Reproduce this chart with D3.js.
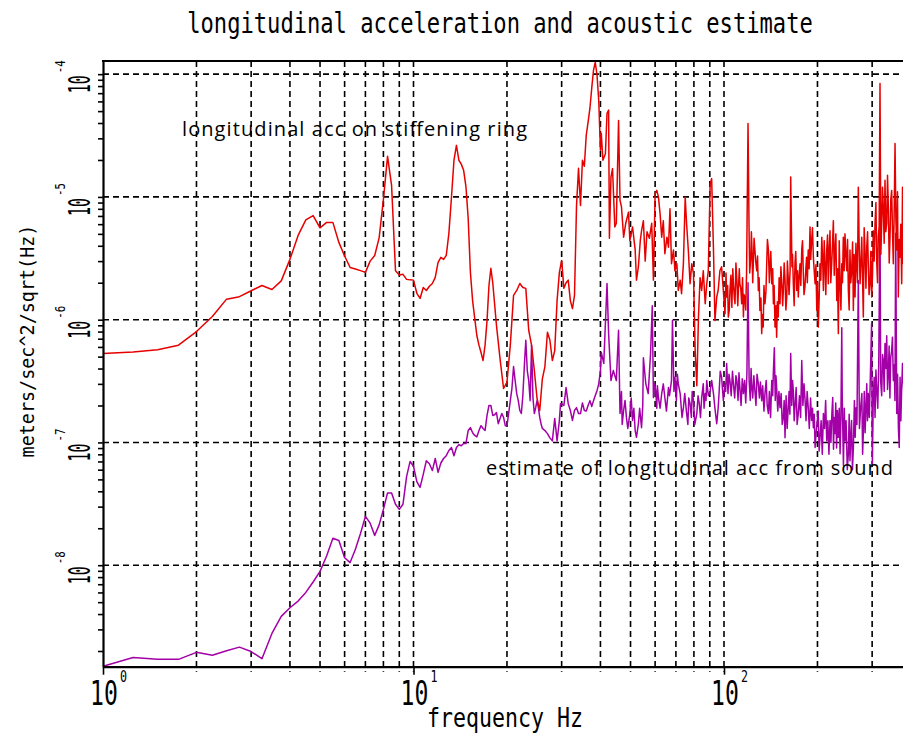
<!DOCTYPE html>
<html>
<head>
<meta charset="utf-8">
<script src="https://cdn.jsdelivr.net/npm/d3@7"></script>
<style>
  body { margin: 0; background: #fff; }
</style>
</head>
<body>
<div id="chart"></div>
<script>
// longitudinal acceleration on the stiffening ring, [Hz, m/s^2/sqrt(Hz)]
var accData = [
  [1, 5.3e-7], [1.25, 5.46e-7], [1.5, 5.7e-7], [1.75, 6.2e-7], [2, 8.0e-7], [2.25, 1.06e-6], [2.5, 1.47e-6],
  [2.75, 1.54e-6], [3, 1.72e-6], [3.25, 1.9e-6], [3.5, 1.76e-6], [3.75, 2.07e-6], [4, 3.1e-6], [4.25, 4.86e-6],
  [4.5, 6.5e-6], [4.75, 7.05e-6], [5, 5.6e-6], [5.25, 6.2e-6], [5.5, 6.2e-6], [5.75, 4.26e-6], [6, 3.3e-6],
  [6.25, 2.66e-6], [6.5, 2.59e-6], [6.75, 2.51e-6], [7, 2.43e-6], [7.25, 3.0e-6], [7.5, 3.33e-6], [7.75, 4.64e-6],
  [8, 9.56e-6], [8.25, 2.14e-5], [8.5, 1.24e-5], [8.75, 2.5e-6], [9, 2.31e-6], [9.25, 2.34e-6], [9.5, 2.13e-6],
  [9.75, 2.11e-6], [10, 2.1e-6], [10.25, 1.64e-6], [10.5, 1.49e-6], [10.75, 1.83e-6], [11, 1.73e-6], [11.25, 1.87e-6],
  [11.5, 1.97e-6], [11.75, 2.21e-6], [12, 2.93e-6], [12.25, 3.22e-6], [12.5, 3.1e-6], [12.75, 3.34e-6], [13, 5.05e-6],
  [13.25, 9.9e-6], [13.5, 1.99e-5], [13.75, 2.63e-5], [14, 1.99e-5], [14.25, 1.85e-5], [14.5, 1.65e-5], [14.75, 1.22e-5],
  [15, 6.7e-6], [15.25, 2.43e-6], [15.5, 1.43e-6], [15.75, 1.02e-6], [16, 7.4e-7], [16.25, 6.2e-7], [16.5, 5.4e-7],
  [16.75, 4.65e-7], [17, 6.2e-7], [17.25, 9.8e-7], [17.5, 1.9e-6], [17.75, 2.62e-6], [18, 2.0e-6], [18.5, 9.0e-7],
  [19, 4.8e-7], [19.5, 2.75e-7], [20, 3.1e-7], [20.5, 6.2e-7], [21, 1.58e-6], [21.5, 1.73e-6], [22, 1.97e-6],
  [22.5, 1.83e-6], [23, 1.8e-6], [23.5, 8.2e-7], [24, 6.2e-7], [24.5, 3.85e-7], [25, 2.28e-7], [25.5, 1.82e-7],
  [26, 3.3e-7], [26.5, 4.15e-7], [27, 7.9e-7], [27.5, 6.8e-7], [28, 4.65e-7], [28.5, 5.6e-7], [29, 1.43e-6],
  [29.5, 2.43e-6], [30, 3.04e-6], [30.5, 1.8e-6], [31, 2.0e-6], [31.5, 2.1e-6], [32, 1.43e-6], [32.5, 1.23e-6],
  [33, 1.58e-6], [33.5, 8.5e-6], [34, 1.71e-5], [34.5, 8.5e-6], [35, 1.99e-5], [35.5, 1.78e-5], [36, 3.18e-5],
  [36.5, 4.06e-5], [37, 5.28e-5], [37.5, 7.7e-5], [38, 1.08e-4], [38.5, 1.25e-4], [39, 9.8e-5], [39.5, 6.1e-5],
  [40, 2.4e-5], [40.25, 3.28e-5], [40.75, 1.99e-5], [41.5, 2.25e-5], [42, 4.8e-5], [42.5, 5.1e-5], [42.75, 4.6e-6],
  [43.25, 1.45e-5], [43.75, 1.7e-5], [44.5, 5.7e-6], [45, 6.1e-6], [45.75, 4.2e-5], [46.25, 9.4e-6], [46.75, 8.3e-6],
  [47.5, 4.7e-6], [48.25, 6.1e-6], [49.25, 7.5e-6], [49.75, 4.4e-6], [50.75, 5.7e-6], [51.75, 3.7e-6], [52.25, 2.1e-6],
  [53, 2.7e-6], [53.75, 4.4e-6], [54.25, 5.3e-6], [55, 6.4e-6], [55.75, 3.0e-6], [56.5, 5.2e-6], [57.5, 4.6e-6],
  [58.5, 6.1e-6], [59.25, 2.1e-6], [60, 1.06e-5], [60.75, 1.13e-5], [61.5, 1.0e-5], [62.25, 7.3e-6], [63, 4.7e-6],
  [63.75, 6.4e-6], [64.5, 3.45e-6], [65.5, 4.7e-6], [66.25, 3.9e-6], [67, 8.0e-6], [67.75, 2.86e-6], [68.75, 3.7e-6],
  [69.5, 2.5e-6], [70.5, 2.86e-6], [71.25, 1.73e-6], [72.25, 2.1e-6], [73, 1.63e-6], [74, 2.86e-6], [75, 1.0e-5],
  [75.75, 6.1e-6], [76.75, 3.7e-6], [77.75, 1.96e-6], [78.75, 2.86e-6], [79.75, 2.37e-6], [80.75, 5.6e-7], [81.75, 2.9e-7],
  [82.75, 1.05e-6], [83.75, 2.2e-6], [84.75, 1.73e-6], [85.75, 2.5e-6], [87, 1.35e-6], [88, 1.96e-6], [89, 2.5e-6],
  [90.25, 1.28e-5], [91.25, 1.41e-5], [92.5, 3.7e-6], [93.5, 9.85e-7], [94.75, 1.53e-6], [95.75, 1.73e-6], [97, 2.5e-6],
  [98.25, 2.7e-6], [99.5, 1.73e-6], [100.75, 1.12e-6], [102, 1.53e-6], [103.25, 1.05e-6], [104.5, 1.73e-6], [106, 1.26e-6],
  [107.25, 1.96e-6], [108.5, 1.35e-6], [110, 2.1e-6], [111.25, 1.73e-6], [112.5, 1.96e-6], [114, 1.35e-6], [115.5, 1.05e-6],
  [116.75, 1.53e-6], [118.25, 2.5e-6], [119.5, 3.96e-5], [120.5, 4.7e-6], [122, 3.23e-6], [123, 3.9e-6], [124.25, 2.86e-6],
  [125.75, 3.7e-6], [127.5, 2.5e-6], [129, 1.73e-6], [130.5, 1.19e-6], [132.25, 7.7e-7], [133.75, 8.7e-7], [135.5, 1.35e-6],
  [137.25, 2.86e-6], [139, 3.7e-6], [140.75, 2.86e-6], [142.5, 1.96e-6], [144.25, 1.35e-6], [146, 8.7e-7], [147.75, 7.2e-7],
  [149.5, 1.05e-6], [151.5, 1.35e-6], [153.5, 1.96e-6], [155.25, 1.73e-6], [157.25, 2.1e-6], [159.25, 1.53e-6], [161, 2.2e-6],
  [163.25, 2.5e-6], [164, 1.45e-5], [165.5, 2.7e-6], [167.25, 1.96e-6], [169.25, 2.86e-6], [171.5, 1.73e-6], [173.5, 1.53e-6],
  [175.75, 2.86e-6], [178, 3.7e-6], [180, 2.5e-6], [182.25, 1.84e-6], [184.5, 3.23e-6], [186.75, 3.7e-6], [189.25, 5.7e-6],
  [191.5, 4.4e-6], [194, 3.23e-6], [196.5, 1.96e-6], [199, 1.19e-6], [201.25, 8.7e-7], [203.75, 2.86e-6], [206.5, 4.7e-6],
  [209, 1.73e-6], [211.5, 2.86e-6], [214.25, 3.7e-6], [216.75, 1.96e-6], [219.5, 5.3e-6], [222.25, 2.86e-6], [225, 6.4e-6],
  [227.75, 3.7e-6], [230.75, 1.43e-6], [233.5, 7.7e-7], [236.5, 1.96e-6], [239.5, 2.86e-6], [242.25, 4.7e-6], [245.25, 5.0e-6],
  [248.5, 2.5e-6], [251.5, 1.73e-6], [254.5, 3.7e-6], [257.75, 2.5e-6], [261, 1.19e-6], [264.25, 1.53e-6], [267.5, 2.86e-6],
  [270.75, 1.2e-5], [274.25, 1.96e-6], [277.75, 4.7e-6], [281, 1.05e-6], [284.5, 3.7e-6], [288.25, 3.9e-6], [291.5, 2.86e-6],
  [295.25, 1.96e-6], [299, 1.53e-6], [302.5, 5.3e-6], [306.5, 6.1e-6], [310.5, 2.86e-6], [314, 4.7e-6], [318, 8.4e-5],
  [322, 6.1e-6], [326, 7.8e-6], [330, 1.37e-5], [334.25, 6.1e-6], [338.25, 8.3e-6], [342.5, 4.7e-6], [346.75, 1.13e-5],
  [351, 2.86e-6], [355.5, 2.72e-5], [360, 3.7e-6], [364.25, 1.53e-6], [368.75, 3.23e-6], [373.5, 1.96e-6], [378, 2.86e-6]
];

// extra readings in the dense band above 100 Hz
var accBand = [
  [101.5, 2.4e-6], [102.75, 1.9e-6], [104, 1.2e-6], [105.25, 2.3e-6], [106.75, 2.6e-6], [108, 1.5e-6], [109.25, 2.9e-6],
  [110.75, 1.3e-6], [112, 2.6e-6], [113.25, 1.8e-6], [114.75, 2.2e-6], [116, 1.6e-6], [117.5, 1.2e-6], [121, 2.4e-6],
  [122.5, 5.2e-6], [123.75, 2.0e-6], [125, 4.6e-6], [126.5, 3.0e-6], [128.25, 3.3e-6], [129.75, 2.2e-6], [131.5, 1.5e-6],
  [133, 1.1e-6], [134.5, 1.9e-6], [136.5, 1.7e-6], [138, 4.5e-6], [140, 2.0e-6], [141.5, 3.6e-6], [143.5, 2.6e-6],
  [145, 1.9e-6], [147, 1.3e-6], [148.5, 1.4e-6], [150.5, 2.2e-6], [152.5, 2.7e-6], [154.5, 1.3e-6], [156.25, 2.9e-6],
  [158.25, 1.2e-6], [160, 3.0e-6], [162, 1.6e-6], [166.25, 3.4e-6], [168.25, 1.3e-6], [170.25, 3.6e-6], [172.5, 2.5e-6],
  [174.5, 2.2e-6], [176.75, 1.9e-6], [179, 4.4e-6], [181, 1.6e-6], [183.5, 2.6e-6], [185.5, 2.0e-6], [188, 2.6e-6],
  [190.25, 3.1e-6], [192.75, 5.6e-6], [195.25, 2.5e-6], [197.75, 2.8e-6], [200, 2.0e-6], [202.5, 1.5e-6], [205, 2.1e-6],
  [207.75, 3.2e-6], [210.25, 4.4e-6], [212.75, 1.6e-6], [215.5, 4.9e-6], [218, 3.6e-6], [220.75, 2.0e-6], [223.5, 4.0e-6],
  [226.5, 2.3e-6], [229.25, 5.0e-6], [232, 2.6e-6], [235, 4.4e-6], [238, 1.2e-6], [240.75, 2.0e-6], [243.75, 2.5e-6],
  [246.75, 3.5e-6], [250, 4.5e-6], [253, 1.2e-6], [256, 2.0e-6], [259.5, 4.3e-6], [262.5, 3.4e-6], [266, 4.2e-6],
  [269, 2.0e-6], [272.5, 4.1e-6], [276, 2.9e-6], [279.25, 2.3e-6], [282.75, 5.6e-6], [286.5, 1.8e-6], [290, 5.2e-6],
  [293.25, 1.6e-6], [297, 3.6e-6], [300.75, 2.3e-6], [304.5, 3.0e-6], [308.5, 9.0e-6], [312.25, 2.0e-6], [316, 5.8e-6],
  [320, 3.4e-6], [324, 1.2e-5], [328, 4.2e-6], [332, 5.2e-6], [336.25, 1.5e-5], [340.5, 2.9e-6], [344.5, 9.5e-6],
  [349, 5.0e-6], [353.25, 7.5e-6], [357.75, 6.5e-6], [362, 1.1e-5], [366.5, 4.5e-6], [371, 6.0e-6], [375.75, 1.2e-5],
  [380, 5.0e-6], [384, 2.6e-6]
];

// acceleration estimated from the sound pressure
var soundData = [
  [1, 1.5e-9], [1.25, 1.77e-9], [1.5, 1.71e-9], [1.75, 1.71e-9], [2, 1.95e-9], [2.25, 1.85e-9], [2.5, 2.01e-9],
  [2.75, 2.15e-9], [3, 1.98e-9], [3.25, 1.73e-9], [3.5, 2.78e-9], [3.75, 3.83e-9], [4, 4.5e-9], [4.25, 5.1e-9],
  [4.5, 6.0e-9], [4.75, 7.3e-9], [5, 8.9e-9], [5.25, 1.19e-8], [5.5, 1.66e-8], [5.75, 1.59e-8], [6, 1.15e-8],
  [6.25, 1.05e-8], [6.5, 1.35e-8], [6.75, 1.81e-8], [7, 2.5e-8], [7.25, 2.2e-8], [7.5, 1.75e-8], [7.75, 2.13e-8],
  [8, 2.85e-8], [8.25, 3.88e-8], [8.5, 3.88e-8], [8.75, 3.14e-8], [9, 2.85e-8], [9.25, 3.14e-8], [9.5, 5.26e-8],
  [9.75, 7.0e-8], [10, 6.4e-8], [10.25, 4.8e-8], [10.5, 4.3e-8], [10.75, 5.5e-8], [11, 7.1e-8], [11.25, 6.7e-8],
  [11.5, 5.9e-8], [11.75, 7.4e-8], [12, 5.7e-8], [12.25, 6.8e-8], [12.5, 7.4e-8], [12.75, 7.8e-8], [13, 8.6e-8],
  [13.25, 9.1e-8], [13.5, 7.8e-8], [13.75, 9.1e-8], [14, 9.6e-8], [14.25, 9.4e-8], [14.5, 9.8e-8], [14.75, 9.8e-8],
  [15, 1.25e-7], [15.25, 1.32e-7], [15.5, 1.2e-7], [15.75, 1.14e-7], [16, 1.11e-7], [16.25, 1.25e-7], [16.5, 1.37e-7],
  [16.75, 1.3e-7], [17, 1.25e-7], [17.25, 1.66e-7], [17.5, 2.0e-7], [17.75, 2.0e-7], [18, 1.66e-7], [18.25, 1.68e-7],
  [18.5, 1.75e-7], [18.75, 1.42e-7], [19, 1.57e-7], [19.25, 1.72e-7], [19.5, 1.6e-7], [19.75, 1.37e-7], [20, 1.37e-7],
  [20.25, 1.72e-7], [20.5, 2.19e-7], [20.75, 2.75e-7], [21, 4.15e-7], [21.25, 3.19e-7], [21.5, 2.5e-7], [21.75, 2.19e-7],
  [22, 1.82e-7], [22.25, 1.72e-7], [22.5, 2.41e-7], [22.75, 4.2e-7], [23, 6.8e-7], [23.25, 3.85e-7], [23.5, 3.19e-7],
  [23.75, 2.19e-7], [24, 6.2e-7], [24.25, 2.32e-7], [24.5, 1.72e-7], [24.75, 1.92e-7], [25, 2.19e-7], [25.25, 1.92e-7],
  [25.5, 1.6e-7], [25.75, 1.42e-7], [26, 1.3e-7], [26.5, 1.25e-7], [27, 1.18e-7], [27.5, 1.09e-7], [28, 1.03e-7],
  [28.5, 1.57e-7], [29, 1.03e-7], [29.5, 1.51e-7], [29.75, 2.07e-7], [30, 2.07e-7], [30.5, 2.0e-7], [31, 2.8e-7],
  [31.5, 2.07e-7], [32, 1.82e-7], [32.5, 1.51e-7], [33, 1.82e-7], [33.5, 1.92e-7], [34, 1.72e-7], [34.5, 1.72e-7],
  [35, 2.1e-7], [35.5, 1.82e-7], [36, 1.8e-7], [36.5, 2.0e-7], [37, 2.19e-7], [37.5, 1.96e-7], [38, 2.19e-7],
  [38.5, 2.41e-7], [39, 2.64e-7], [39.5, 3.0e-7], [40, 3.85e-7], [40.25, 5.4e-7], [41, 4.4e-7], [42, 1.97e-6],
  [42.5, 7.7e-7], [43.25, 3.19e-7], [44, 3.85e-7], [45, 3.19e-7], [45.75, 8.2e-7], [46.25, 1.72e-7], [47.5, 1.82e-7],
  [48.5, 1.6e-7], [49.75, 1.72e-7], [50.75, 1.51e-7], [51.75, 1.25e-7], [53, 1.42e-7], [54.25, 1.32e-7], [55, 4.9e-7],
  [56, 3.0e-7], [57, 2.5e-7], [58, 5.3e-7], [58.75, 1.3e-6], [59.25, 2.32e-7], [60.25, 2.64e-7], [61.5, 2.32e-7],
  [63, 2.5e-7], [64.5, 2.32e-7], [66.25, 2.8e-7], [67.75, 3.19e-7], [68.25, 9.9e-7], [69.5, 3.4e-7], [71.25, 3.0e-7],
  [72.25, 2.5e-7], [74, 1.92e-7], [75.75, 1.75e-7], [77.75, 2.07e-7], [79.75, 2.19e-7], [81.75, 1.72e-7], [83.25, 2.07e-7],
  [84.75, 2.32e-7], [87, 2.5e-7], [88, 3.19e-7], [90.25, 2.64e-7], [92.5, 2.5e-7], [94.75, 1.42e-7], [96.5, 2.64e-7],
  [98.25, 3.4e-7], [100.75, 3.0e-7], [102, 4.4e-7], [104.5, 3.19e-7], [107.25, 3.0e-7], [110, 3.19e-7], [112.5, 2.8e-7],
  [115.5, 2.5e-7], [119.5, 2.0e-6], [120.5, 3.19e-7], [122.75, 3.0e-7], [125.75, 2.64e-7], [129, 3.0e-7], [132.25, 2.19e-7],
  [135.5, 2.5e-7], [139, 1.72e-7], [142.5, 3.19e-7], [145.25, 5.9e-7], [147.75, 2.8e-7], [151.5, 1.92e-7], [155.25, 1.6e-7],
  [157.25, 1.09e-7], [161, 1.92e-7], [164, 5.3e-7], [167.25, 2.64e-7], [169.25, 1.92e-7], [173.5, 1.72e-7], [178, 4.65e-7],
  [182.25, 2.32e-7], [186.75, 1.92e-7], [191.5, 1.51e-7], [194, 1.32e-7], [196.5, 9.1e-8], [199.75, 1.51e-7], [203.75, 1.09e-7],
  [209, 1.72e-7], [214.25, 1.03e-7], [219.5, 1.51e-7], [224, 2.32e-7], [227.75, 1.18e-7], [231.75, 1.82e-7], [236.5, 8.1e-8],
  [239.5, 8.6e-7], [241.25, 1.32e-7], [245.25, 1.03e-7], [251.5, 8.1e-8], [254.5, 7.1e-8], [257.5, 1.51e-7], [261, 9.1e-8],
  [266.25, 1.92e-7], [270.75, 2.09e-6], [275.5, 1.92e-7], [281, 1.18e-7], [286.5, 1.92e-7], [291.5, 2.5e-7], [298.75, 9.3e-7],
  [300.5, 6.7e-8], [302.5, 2.32e-7], [310.5, 2.64e-7], [318, 7.35e-6], [319.5, 3.19e-7], [326, 4.65e-7], [330, 6.4e-7],
  [338.25, 3.64e-7], [344.25, 4.9e-7], [351, 3.19e-7], [357.25, 5.05e-6], [360, 1.72e-7], [366.75, 9.1e-8], [373.5, 2.8e-7],
  [378, 3.19e-7]
];

// extra readings in the dense band above 45 Hz
var soundBand = [
  [46.75, 2.6e-7], [47, 1.4e-7], [48, 2.2e-7], [49, 1.3e-7], [50.25, 2.3e-7], [51.25, 1.9e-7], [52.25, 1.1e-7],
  [53.5, 1.9e-7], [54.75, 2.0e-7], [59.75, 3.0e-7], [60.75, 1.9e-7], [61, 2.9e-7], [62.25, 1.9e-7], [63.75, 3.0e-7],
  [65.25, 1.8e-7], [66.75, 2.4e-7], [69, 2.6e-7], [70.25, 2.2e-7], [70.75, 3.6e-7], [72.75, 2.0e-7], [73.25, 1.6e-7],
  [74.75, 2.5e-7], [76.5, 1.4e-7], [77, 2.3e-7], [78.5, 1.6e-7], [79, 2.6e-7], [80.5, 1.4e-7], [82.5, 2.4e-7],
  [84, 1.6e-7], [85.75, 3.0e-7], [86.25, 1.9e-7], [87.5, 2.2e-7], [89, 2.4e-7], [91.25, 3.2e-7], [93.5, 1.9e-7],
  [95.75, 1.9e-7], [97.25, 3.8e-7], [99.5, 2.2e-7], [101.25, 2.6e-7], [103, 2.5e-7], [103.75, 3.6e-7], [105.5, 2.4e-7],
  [106.5, 3.8e-7], [108.25, 2.3e-7], [109.25, 3.5e-7], [111, 2.2e-7], [111.75, 3.7e-7], [113.5, 2.0e-7], [114.5, 3.3e-7],
  [116.5, 3.2e-7], [117.5, 2.1e-7], [118.5, 3.6e-7], [121.5, 2.2e-7], [122.25, 4.0e-7], [123.75, 2.3e-7], [124.75, 3.5e-7],
  [126.75, 2.0e-7], [127.75, 3.6e-7], [130, 2.3e-7], [131, 3.1e-7], [133.25, 2.9e-7], [134.5, 1.8e-7], [136.75, 3.2e-7],
  [137.75, 2.0e-7], [140, 2.6e-7], [141.25, 1.6e-7], [143.5, 2.4e-7], [144.25, 3.8e-7], [146.25, 2.2e-7], [147, 3.5e-7],
  [149, 1.8e-7], [150.25, 2.6e-7], [152.75, 2.5e-7], [154, 1.4e-7], [156.25, 2.2e-7], [158.5, 2.4e-7], [159.75, 1.3e-7],
  [162, 2.6e-7], [163, 1.7e-7], [165.25, 2.0e-7], [166.25, 3.2e-7], [168.25, 1.5e-7], [170.75, 2.8e-7], [172, 1.4e-7],
  [175, 2.4e-7], [176.5, 1.6e-7], [179.5, 2.0e-7], [181, 3.0e-7], [183.75, 1.5e-7], [185.25, 2.6e-7], [188.25, 1.3e-7],
  [190, 2.3e-7], [192.75, 1.9e-7], [195.25, 1.7e-7], [198, 1.2e-7], [201, 1.8e-7], [202.5, 8.5e-8], [205.5, 1.5e-7],
  [207.25, 8.0e-8], [210.75, 1.3e-7], [212.5, 2.2e-7], [216, 1.5e-7], [217.75, 8.0e-8], [221, 1.0e-7], [222.5, 1.7e-7],
  [225.25, 8.8e-8], [226.5, 1.6e-7], [229, 2.1e-7], [230.5, 9.0e-8], [233.25, 1.1e-7], [235, 1.9e-7], [238, 1.6e-7],
  [240.25, 2.5e-7], [242.5, 6.5e-8], [244, 1.9e-7], [247.25, 1.5e-7], [249.5, 6.0e-8], [253, 1.7e-7], [256, 1.1e-7],
  [259.25, 6.0e-8], [263, 2.2e-7], [264.5, 1.1e-7], [268, 1.4e-7], [273, 1.3e-7], [278, 2.5e-7], [279.5, 8.0e-8],
  [283, 2.6e-7], [284.75, 1.2e-7], [288.25, 3.0e-7], [289.75, 1.5e-7], [293.75, 1.6e-7], [296, 3.4e-7], [304.5, 3.4e-7],
  [306.5, 1.6e-7], [308.5, 3.9e-7], [312.75, 1.9e-7], [315, 4.3e-7], [322, 2.4e-7], [324, 5.2e-7], [328, 2.6e-7],
  [332.25, 4.0e-7], [334.25, 7.4e-7], [336.25, 2.7e-7], [340.25, 6.1e-7], [342.25, 2.3e-7], [346.5, 5.5e-7], [348.75, 7.2e-7],
  [353.25, 4.3e-7], [355.25, 2.2e-7], [362.25, 3.6e-7], [364.5, 1.3e-7], [369, 3.4e-7], [371.25, 1.5e-7], [375.75, 4.4e-7],
  [380, 2.4e-7], [384, 3.7e-7]
];

var yDecades = [1e-8, 1e-7, 1e-6, 1e-5, 1e-4];
var yExponents = ["-8", "-7", "-6", "-5", "-4"];
var xDecades = [1, 10, 100];
var xExponents = ["0", "1", "2"];

var svgWidth = 903;
var svgHeight = 738;

var margin = { top: 61, left: 103, bottom: 72 };
var plotBottom = svgHeight - margin.bottom + 0.7;

var svg = d3.select("#chart")
  .append("svg")
  .attr("width", svgWidth)
  .attr("height", svgHeight)
  .style("font-family", "'DejaVu Sans Mono', monospace");

// log scales, one decade is about 310 px across and 123 px high
var xScale = d3.scaleLog()
  .domain([1, 400])
  .range([margin.left, margin.left + 310.5 * Math.log10(400)]);

var yScale = d3.scaleLog()
  .domain([1.49e-9, 1.28e-4])
  .range([plotBottom, margin.top]);

var xRight = xScale.range()[1];

svg.append("defs").append("clipPath")
  .attr("id", "plot-clip")
  .append("rect")
  .attr("x", margin.left)
  .attr("y", margin.top - 1)
  .attr("width", xRight - margin.left)
  .attr("height", plotBottom - margin.top + 1);

// dashed grid
var gridX = xScale.ticks().filter(d => d > 1 && d < 400);

svg.append("g")
  .selectAll("line")
  .data(gridX)
  .enter()
  .append("line")
  .attr("x1", d => xScale(d))
  .attr("x2", d => xScale(d))
  .attr("y1", margin.top)
  .attr("y2", plotBottom + 5)
  .attr("stroke", "#000")
  .attr("stroke-width", 1.6)
  .attr("stroke-dasharray", "6,4");

svg.append("g")
  .selectAll("line")
  .data(yDecades)
  .enter()
  .append("line")
  .attr("x1", margin.left)
  .attr("x2", xRight)
  .attr("y1", d => yScale(d))
  .attr("y2", d => yScale(d))
  .attr("stroke", "#000")
  .attr("stroke-width", 1.6)
  .attr("stroke-dasharray", "6,4");

// data lines, the band readings merged in by frequency
var byFreq = (a, b) => a[0] - b[0];
var accAll = accData.concat(accBand).sort(byFreq);
var soundAll = soundData.concat(soundBand).sort(byFreq);

var line = d3.line()
  .x(d => xScale(d[0]))
  .y(d => yScale(d[1]));

var lines = svg.append("g").attr("clip-path", "url(#plot-clip)");

lines.append("path")
  .datum(soundAll)
  .attr("d", line)
  .attr("fill", "none")
  .attr("stroke", "#a300a8")
  .attr("stroke-width", 1.5)
  .attr("stroke-linejoin", "round");

lines.append("path")
  .datum(accAll)
  .attr("d", line)
  .attr("fill", "none")
  .attr("stroke", "#e60000")
  .attr("stroke-width", 1.5)
  .attr("stroke-linejoin", "round");

// axes
var leftAxis = d3.axisLeft(yScale)
  .tickValues(yScale.ticks())
  .tickSize(5)
  .tickSizeOuter(0)
  .tickFormat("");

var bottomAxis = d3.axisBottom(xScale)
  .tickValues(xDecades)
  .tickSize(8)
  .tickSizeOuter(0)
  .tickFormat("");

var yAxisG = svg.append("g")
  .attr("transform", `translate(${margin.left}, 0)`)
  .call(leftAxis);

var xAxisG = svg.append("g")
  .attr("transform", `translate(0, ${plotBottom})`)
  .call(bottomAxis);

[yAxisG, xAxisG].forEach(g => {
  g.select(".domain").attr("stroke-width", 2.2);
  g.selectAll(".tick line").attr("stroke-width", 1.6);
});

// top frame line
svg.append("line")
  .attr("x1", margin.left - 1)
  .attr("x2", xRight)
  .attr("y1", margin.top)
  .attr("y2", margin.top)
  .attr("stroke", "#000")
  .attr("stroke-width", 2.2);

// the plot font is tall and narrow, so squeeze the mono glyphs sideways
// y tick labels, rotated 10 with exponent
var yLabels = svg.append("g");

yLabels.selectAll("text.base")
  .data(yDecades)
  .enter()
  .append("text")
  .attr("class", "base")
  .attr("transform", d => `translate(90, ${yScale(d) + 19}) rotate(-90) scale(0.48, 1)`)
  .attr("font-size", 31)
  .text("10");

yLabels.selectAll("text.exp")
  .data(yDecades)
  .enter()
  .append("text")
  .attr("class", "exp")
  .attr("transform", d => `translate(65, ${yScale(d) - 1}) rotate(-90) scale(0.77, 1)`)
  .attr("font-size", 14)
  .text((d, i) => yExponents[i]);

// x tick labels
var xLabels = svg.append("g");

xLabels.selectAll("text.base")
  .data(xDecades)
  .enter()
  .append("text")
  .attr("class", "base")
  .attr("transform", d => `translate(${xScale(d) + 1}, 705) scale(0.68, 1)`)
  .attr("text-anchor", "middle")
  .attr("font-size", 34)
  .text("10");

xLabels.selectAll("text.exp")
  .data(xDecades)
  .enter()
  .append("text")
  .attr("class", "exp")
  .attr("transform", d => `translate(${xScale(d) + 17}, 682) scale(0.78, 1)`)
  .attr("font-size", 15)
  .text((d, i) => xExponents[i]);

// titles
svg.append("text")
  .attr("transform", "translate(500, 33) scale(0.79, 1)")
  .attr("text-anchor", "middle")
  .attr("font-size", 28)
  .text("longitudinal acceleration and acoustic estimate");

svg.append("text")
  .attr("transform", "translate(505, 727) scale(0.8, 1)")
  .attr("text-anchor", "middle")
  .attr("font-size", 27)
  .text("frequency Hz");

svg.append("text")
  .attr("transform", "translate(34, 341) rotate(-90) scale(0.97, 1)")
  .attr("text-anchor", "middle")
  .attr("font-size", 19)
  .text("meters/sec^2/sqrt(Hz)");

// curve annotations
svg.append("text")
  .attr("x", 182)
  .attr("y", 136)
  .attr("font-family", "'Open Sans', sans-serif")
  .attr("font-size", 20)
  .attr("textLength", 345)
  .text("longitudinal acc on stiffening ring");

svg.append("text")
  .attr("x", 486)
  .attr("y", 475)
  .attr("font-family", "'Open Sans', sans-serif")
  .attr("font-size", 20)
  .attr("textLength", 407)
  .text("estimate of longitudinal acc from sound");
</script>
</body>
</html>
